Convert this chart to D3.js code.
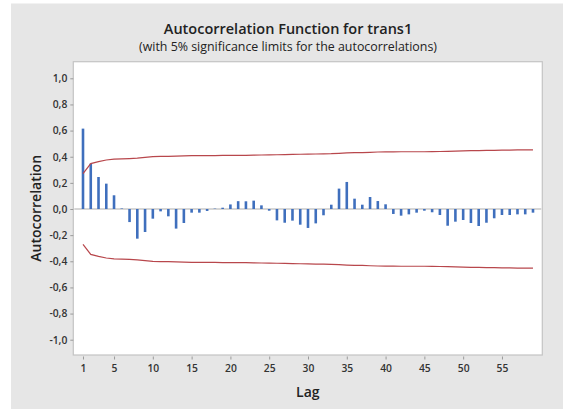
<!DOCTYPE html>
<html>
<head>
<meta charset="utf-8">
<script src="https://cdn.jsdelivr.net/npm/d3@7"></script>
<style>
  html, body { margin: 0; padding: 0; background: #ffffff; }
  svg { display: block; }
  text { font-family: "Open Sans", "Noto Sans", sans-serif; }
</style>
</head>
<body>
<svg id="chart" width="563" height="409"></svg>
<script>
// ACF values, lags 1..59
var acf_values = [
    0.615, 0.347, 0.245, 0.194, 0.105, 0.004, -0.100, -0.227, -0.176, -0.074,
    -0.018, -0.056, -0.150, -0.107, -0.028, -0.028, -0.015, 0.003, 0.010, 0.035,
    0.060, 0.059, 0.064, 0.028, -0.013, -0.087, -0.105, -0.089, -0.120, -0.145,
    -0.110, -0.048, 0.033, 0.156, 0.207, 0.079, 0.033, 0.092, 0.061, 0.036,
    -0.038, -0.051, -0.041, -0.028, -0.013, -0.025, -0.046, -0.128, -0.097, -0.084,
    -0.107, -0.130, -0.105, -0.071, -0.046, -0.046, -0.041, -0.041, -0.028
];
// 5% significance limit (drawn as + and -), per lag
var sig_limits = [
    0.270, 0.347, 0.363, 0.375, 0.381, 0.384, 0.386, 0.389, 0.395, 0.400,
    0.402, 0.403, 0.405, 0.406, 0.408, 0.408, 0.409, 0.409, 0.410, 0.410,
    0.411, 0.411, 0.412, 0.413, 0.414, 0.415, 0.416, 0.418, 0.419, 0.420,
    0.421, 0.422, 0.423, 0.426, 0.429, 0.431, 0.432, 0.434, 0.436, 0.437,
    0.437, 0.438, 0.438, 0.438, 0.438, 0.439, 0.440, 0.441, 0.443, 0.445,
    0.446, 0.447, 0.448, 0.449, 0.450, 0.451, 0.452, 0.452, 0.453
];
var lags = d3.range(1, acf_values.length + 1);
var x_ticks = [1, 5, 10, 15, 20, 25, 30, 35, 40, 45, 50, 55];
var y_ticks = [1.0, 0.8, 0.6, 0.4, 0.2, 0.0, -0.2, -0.4, -0.6, -0.8, -1.0];

var title = "Autocorrelation Function for trans1";
var subtitle = "(with 5% significance limits for the autocorrelations)";

var svg = d3.select("#chart");
var plot = { left: 73.3, right: 542.3, top: 61.7, bottom: 355 };

var x = d3.scaleLinear().domain([-0.25, 60.2]).range([plot.left, plot.right]);
var y = d3.scaleLinear().domain([-1.117, 1.127]).range([plot.bottom, plot.top]);

// grey frame
svg.append("rect")
    .attr("x", 11).attr("y", 3.5)
    .attr("width", 563 - 11).attr("height", 409 - 3.5)
    .attr("fill", "#e6e6e6");

svg.append("rect")
    .attr("x", plot.left).attr("y", plot.top)
    .attr("width", plot.right - plot.left).attr("height", plot.bottom - plot.top)
    .attr("fill", "#ffffff")
    .attr("stroke", "#c4c4c4")
    .attr("stroke-width", 1.2);

// titles
svg.append("text")
    .attr("x", 288).attr("y", 34)
    .attr("text-anchor", "middle")
    .attr("font-size", 14.5).attr("font-weight", 600)
    .attr("fill", "#222")
    .text(title);
svg.append("text")
    .attr("x", 288).attr("y", 50.5)
    .attr("text-anchor", "middle")
    .attr("font-size", 12.4)
    .attr("fill", "#222")
    .text(subtitle);

// axes
var fmt = function(d) { return d3.format(".1f")(d).replace(".", ",").replace("−", "-"); };

var y_axis = svg.append("g")
    .attr("transform", "translate(" + plot.left + ",0)")
    .call(d3.axisLeft(y).tickValues(y_ticks).tickSize(3).tickPadding(3).tickFormat(fmt));
y_axis.select(".domain").remove();

var x_axis = svg.append("g")
    .attr("transform", "translate(0," + (plot.bottom + 1.5) + ")")
    .call(d3.axisBottom(x).tickValues(x_ticks).tickSize(3).tickPadding(5));
x_axis.select(".domain").remove();

svg.selectAll(".tick line").attr("stroke", "#9a9a9a");
svg.selectAll(".tick text")
    .attr("font-family", "\"Open Sans\", \"Noto Sans\", sans-serif")
    .attr("font-size", 10.3)
    .attr("font-weight", 600)
    .attr("fill", "#333");

svg.append("text")
    .attr("transform", "translate(41," + ((plot.top + plot.bottom) / 2) + ") rotate(-90)")
    .attr("text-anchor", "middle")
    .attr("font-size", 14).attr("font-weight", 600)
    .attr("fill", "#222")
    .text("Autocorrelation");

svg.append("text")
    .attr("x", (plot.left + plot.right) / 2).attr("y", 397)
    .attr("text-anchor", "middle")
    .attr("font-size", 14).attr("font-weight", 600)
    .attr("fill", "#222")
    .text("Lag");

// zero reference
svg.append("line")
    .attr("x1", plot.left + 1).attr("x2", plot.right - 1)
    .attr("y1", y(0)).attr("y2", y(0))
    .attr("stroke", "#c8c8c8").attr("stroke-width", 1.5);

// acf bars
svg.append("g").selectAll("line")
    .data(lags)
    .join("line")
    .attr("x1", function(d) { return x(d); })
    .attr("x2", function(d) { return x(d); })
    .attr("y1", y(0))
    .attr("y2", function(d, i) { return y(acf_values[i]); })
    .attr("stroke", "#3f6fbd")
    .attr("stroke-width", 2.6);

// significance limits
var upper = d3.line().x(function(d) { return x(d); }).y(function(d, i) { return y(sig_limits[i]); });
var lower = d3.line().x(function(d) { return x(d); }).y(function(d, i) { return y(-sig_limits[i]); });

svg.append("path").datum(lags)
    .attr("d", upper)
    .attr("fill", "none").attr("stroke", "#b8474c").attr("stroke-width", 1.2);
svg.append("path").datum(lags)
    .attr("d", lower)
    .attr("fill", "none").attr("stroke", "#b8474c").attr("stroke-width", 1.2);
</script>
</body>
</html>
